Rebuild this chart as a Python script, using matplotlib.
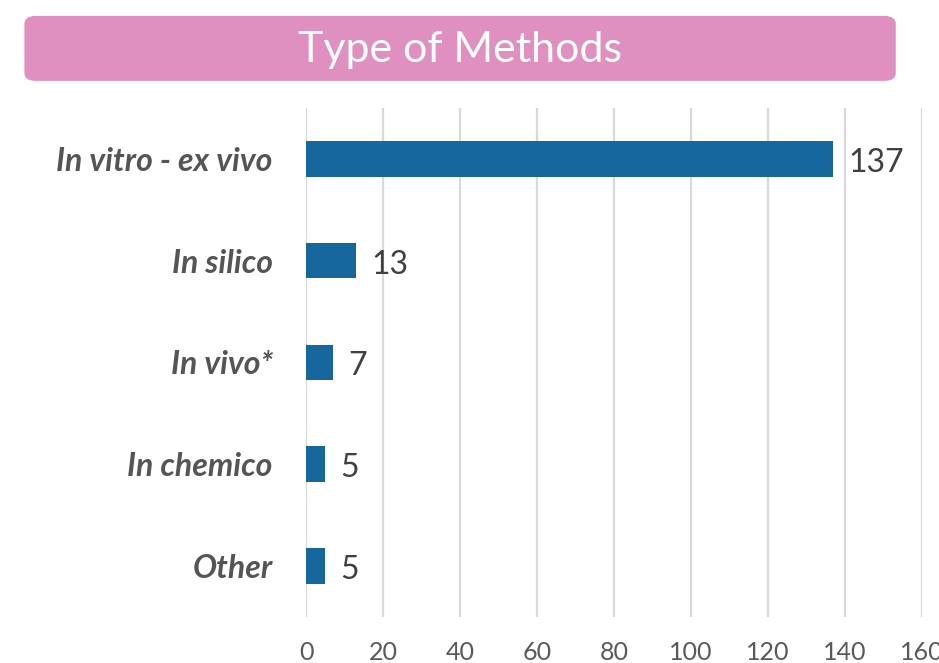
import matplotlib.pyplot as plt
from matplotlib.patches import FancyBboxPatch

# data
categories = ["In vitro - ex vivo", "In silico", "In vivo*", "In chemico", "Other"]
counts = [137, 13, 7, 5, 5]
ticks = [0, 20, 40, 60, 80, 100, 120, 140, 160]

plt.rcParams['font.family'] = ['Lato', 'DejaVu Sans']

fig = plt.figure(figsize=(9.39, 6.63), dpi=100)
ax = fig.add_axes([0.3259, 0.0694, 0.656, 0.768])

y = list(range(len(categories)))
ax.barh(y, counts, height=0.35, color="#15679e", zorder=3)
ax.set_ylim(len(categories) - 0.5, -0.5)
ax.set_xlim(0, 160)

for yi, v in zip(y, counts):
    ax.text(v + 4, yi + 0.04, str(v), va="center", ha="left",
            fontsize=23, color="#404040")

ax.set_xticks(ticks)
ax.set_xticklabels([str(t) for t in ticks], fontsize=18, color="#595959")
ax.set_yticks(y)
ax.set_yticklabels(categories, fontsize=23, fontweight="bold",
                   fontstyle="italic", color="#555555")
ax.tick_params(axis="both", length=0)
ax.tick_params(axis="x", pad=17)
ax.tick_params(axis="y", pad=24)

ax.grid(axis="x", color="#d9d9d9", linewidth=1.6, zorder=0)
for s in ax.spines.values():
    s.set_visible(False)

# title box
box = FancyBboxPatch((0.026, 0.878), 0.928, 0.098,
                     boxstyle="round,pad=0,rounding_size=0.012",
                     transform=fig.transFigure, facecolor="#e090c0",
                     edgecolor="none")
fig.patches.append(box)
fig.text(0.49, 0.925, "Type of Methods", ha="center", va="center",
         fontsize=31, color="white")

fig.savefig("out.png", dpi=100)
